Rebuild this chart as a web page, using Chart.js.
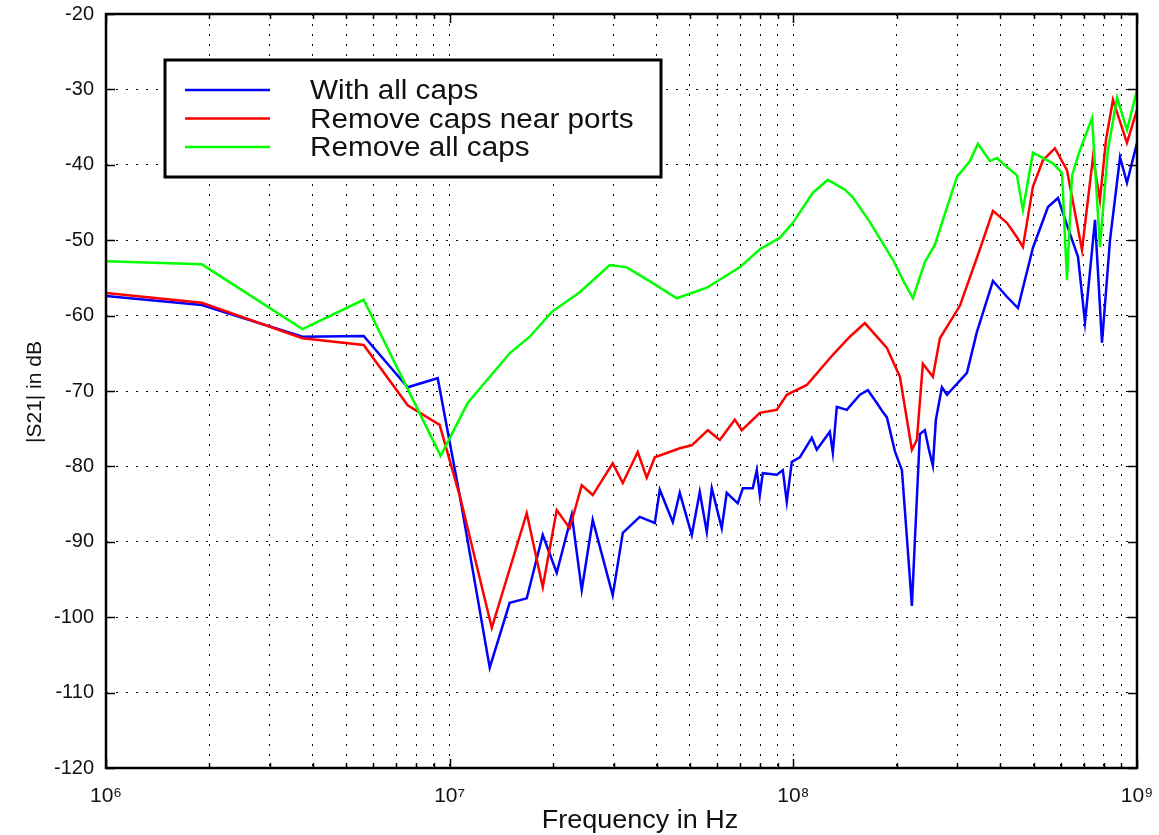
<!DOCTYPE html>
<html>
<head>
<meta charset="utf-8">
<script src="https://cdn.jsdelivr.net/npm/chart.js@4.4.1/dist/chart.umd.min.js"></script>
<style>
  html, body { margin: 0; padding: 0; background: #fff; }
  #wrap { width: 1159px; height: 835px; position: relative; }
</style>
</head>
<body>
<div id="wrap"><canvas id="s21Chart"></canvas></div>
<script>
// |S21| vs frequency
const seriesLabels = ['With all caps', 'Remove caps near ports', 'Remove all caps'];
const seriesColors = ['#0000ff', '#ff0000', '#00ff00'];

const allCapsHz = [1e6, 1.9e6, 3.73e6, 5.62e6, 7.55e6, 9.23e6, 1.073e7, 1.308e7, 1.495e7, 1.676e7,
  1.866e7, 2.049e7, 2.266e7, 2.423e7, 2.608e7, 2.982e7, 3.19e7, 3.573e7, 3.953e7, 4.087e7,
  4.46e7, 4.673e7, 5.064e7, 5.343e7, 5.6e7, 5.79e7, 6.19e7, 6.4e7, 6.89e7, 7.13e7,
  7.62e7, 7.83e7, 7.99e7, 8.15e7, 8.95e7, 9.32e7, 9.57e7, 9.9e7, 1.044e8, 1.132e8,
  1.17e8, 1.277e8, 1.303e8, 1.338e8, 1.431e8, 1.562e8, 1.648e8, 1.75e8, 1.822e8, 1.872e8,
  1.975e8, 2.07e8, 2.14e8, 2.213e8, 2.258e8, 2.335e8, 2.414e8, 2.481e8, 2.547e8, 2.599e8,
  2.706e8, 2.799e8, 3.2e8, 3.42e8, 3.81e8, 4.183e8, 4.504e8, 4.98e8, 5.507e8, 5.89e8,
  6.255e8, 6.735e8, 7.058e8, 7.548e8, 7.91e8, 8.345e8, 8.925e8, 9.35e8, 1e9];
const allCapsDb = [-57.4, -58.6, -62.8, -62.7, -69.5, -68.3, -84.2, -106.7, -98.1, -97.5,
  -89.1, -94.1, -86.4, -96.4, -87.1, -97.1, -88.8, -86.7, -87.5, -83.1,
  -87.4, -83.5, -89.1, -83.4, -88.7, -82.9, -88.2, -83.5, -84.9, -82.9,
  -82.9, -80.5, -83.8, -80.9, -81.1, -80.5, -84.7, -79.4, -78.8, -76.2,
  -77.8, -75.4, -78.2, -72.1, -72.5, -70.5, -69.9, -71.6, -72.8, -73.5,
  -78.0, -80.5, -89.4, -98.5, -89.8, -75.7, -75.2, -77.8, -79.9, -73.8,
  -69.5, -70.5, -67.6, -62.2, -55.4, -57.5, -59.0, -51.0, -45.6, -44.4,
  -48.0, -52.2, -60.9, -47.3, -63.6, -50.0, -39.0, -42.4, -37.1];

const nearPortsHz = [1e6, 1.9e6, 3.73e6, 5.62e6, 7.55e6, 9.35e6, 1.073e7, 1.326e7, 1.676e7, 1.866e7,
  2.049e7, 2.235e7, 2.423e7, 2.608e7, 2.982e7, 3.19e7, 3.526e7, 3.745e7, 3.953e7, 4.673e7,
  5.064e7, 5.64e7, 6.11e7, 6.755e7, 7.08e7, 7.99e7, 8.95e7, 9.57e7, 1.095e8, 1.303e8,
  1.46e8, 1.615e8, 1.872e8, 2.042e8, 2.213e8, 2.288e8, 2.382e8, 2.547e8, 2.67e8, 3.052e8,
  3.49e8, 3.81e8, 4.183e8, 4.474e8, 4.656e8, 4.98e8, 5.325e8, 5.77e8, 6.255e8, 6.917e8,
  7.446e8, 7.8e8, 8.124e8, 8.51e8, 9.35e8, 1e9];
const nearPortsDb = [-57.0, -58.3, -63.0, -63.9, -71.9, -74.5, -84.1, -101.4, -86.2, -96.0,
  -85.8, -88.2, -82.5, -83.8, -79.6, -82.2, -78.1, -81.5, -78.8, -77.6,
  -77.2, -75.2, -76.5, -73.8, -75.2, -72.9, -72.5, -70.5, -69.2, -65.2,
  -62.8, -61.0, -64.3, -68.1, -77.8, -76.5, -66.4, -68.1, -63.0, -58.7,
  -51.2, -46.1, -47.7, -49.6, -50.9, -42.9, -39.4, -37.8, -40.7, -51.3,
  -39.0, -44.7, -36.7, -31.4, -37.1, -32.7];

const noCapsHz = [1e6, 1.9e6, 3.73e6, 5.62e6, 9.41e6, 1.128e7, 1.495e7, 1.71e7, 1.982e7, 2.39e7,
  2.923e7, 3.276e7, 3.9e7, 4.58e7, 5.6e7, 6.98e7, 7.99e7, 9.13e7, 9.97e7, 1.14e8,
  1.26e8, 1.413e8, 1.49e8, 1.67e8, 1.949e8, 2.084e8, 2.228e8, 2.414e8, 2.582e8, 2.992e8,
  3.265e8, 3.444e8, 3.733e8, 3.912e8, 4.183e8, 4.474e8, 4.656e8, 4.98e8, 5.695e8, 6.05e8,
  6.255e8, 6.47e8, 6.83e8, 7.4e8, 7.8e8, 8.23e8, 8.75e8, 9.35e8, 1e9];
const noCapsDb = [-52.8, -53.2, -61.8, -57.9, -78.6, -71.6, -65.0, -62.8, -59.5, -56.9,
  -53.3, -53.6, -55.7, -57.7, -56.3, -53.6, -51.2, -49.7, -47.7, -43.7,
  -42.0, -43.3, -44.3, -47.6, -52.6, -55.3, -57.7, -52.9, -50.6, -41.6,
  -39.5, -37.2, -39.5, -39.1, -40.3, -41.4, -46.0, -38.4, -39.8, -41.1,
  -55.3, -41.4, -38.0, -33.8, -50.9, -38.0, -31.1, -35.4, -30.1];

const xDecades = [1e6, 1e7, 1e8, 1e9];
const xTickLabels = ['10\u2076', '10\u2077', '10\u2078', '10\u2079'];
const yMin = -120, yMax = -20, yStep = 10;

const FONT = '"Liberation Sans", Arial, Helvetica, sans-serif';

function toPoints(hz, db) {
  return hz.map((f, i) => ({ x: f, y: db[i] }));
}

function isDecade(v) {
  const l = Math.log10(v);
  return Math.abs(l - Math.round(l)) < 1e-9;
}

// frame, inward tick marks and legend box drawn over the plot
const framePlugin = {
  id: 'frame',
  afterDatasetsDraw(chart) {
    const { ctx, chartArea: a, scales } = chart;
    const x = scales.x, y = scales.y;
    ctx.save();
    ctx.strokeStyle = '#000';
    ctx.lineWidth = 1.5;
    ctx.beginPath();
    y.ticks.forEach(t => {
      const py = Math.round(y.getPixelForValue(t.value)) + 0.5;
      ctx.moveTo(a.left, py); ctx.lineTo(a.left + 9, py);
      ctx.moveTo(a.right, py); ctx.lineTo(a.right - 9, py);
    });
    x.ticks.forEach(t => {
      const px = Math.round(x.getPixelForValue(t.value)) + 0.5;
      const len = isDecade(t.value) ? 9 : 5;
      ctx.moveTo(px, a.bottom); ctx.lineTo(px, a.bottom - len);
      ctx.moveTo(px, a.top); ctx.lineTo(px, a.top + len);
    });
    ctx.stroke();
    ctx.lineWidth = 2.5;
    ctx.strokeRect(a.left, a.top, a.right - a.left, a.bottom - a.top);

    // legend
    const box = { left: 165, top: 60, right: 661, bottom: 177 };
    ctx.fillStyle = '#fff';
    ctx.fillRect(box.left, box.top, box.right - box.left, box.bottom - box.top);
    ctx.lineWidth = 3;
    ctx.strokeRect(box.left, box.top, box.right - box.left, box.bottom - box.top);
    ctx.font = '27px ' + FONT;
    ctx.textBaseline = 'alphabetic';
    ctx.textAlign = 'left';
    chart.data.datasets.forEach((ds, i) => {
      const ly = 90 + i * 28.5;
      ctx.strokeStyle = ds.borderColor;
      ctx.lineWidth = 2.5;
      ctx.beginPath();
      ctx.moveTo(185, ly); ctx.lineTo(270, ly);
      ctx.stroke();
      ctx.save();
      ctx.translate(310, ly + 9);
      ctx.scale(1.1, 1);
      ctx.fillStyle = '#111';
      ctx.fillText(ds.label, 0, 0);
      ctx.restore();
    });
    ctx.restore();
  },
  afterDraw(chart) {
    const { ctx } = chart;
    ctx.save();
    ctx.fillStyle = '#111';
    ctx.font = '25px ' + FONT;
    ctx.textAlign = 'center';
    ctx.textBaseline = 'alphabetic';
    ctx.translate(640, 828);
    ctx.scale(1.08, 1);
    ctx.fillText('Frequency in Hz', 0, 0);
    ctx.restore();

    ctx.save();
    ctx.fillStyle = '#111';
    ctx.font = '21px ' + FONT;
    ctx.textAlign = 'center';
    ctx.textBaseline = 'alphabetic';
    ctx.translate(41, 392);
    ctx.rotate(-Math.PI / 2);
    ctx.fillText('|S21| in dB', 0, 0);
    ctx.restore();
  }
};

const datasets = [
  { label: seriesLabels[0], data: toPoints(allCapsHz, allCapsDb), borderColor: seriesColors[0], order: 3 },
  { label: seriesLabels[1], data: toPoints(nearPortsHz, nearPortsDb), borderColor: seriesColors[1], order: 2 },
  { label: seriesLabels[2], data: toPoints(noCapsHz, noCapsDb), borderColor: seriesColors[2], order: 1 }
].map(d => Object.assign(d, {
  borderWidth: 2.5,
  pointRadius: 0,
  tension: 0,
  fill: false
}));

const ctx = document.getElementById('s21Chart');
new Chart(ctx.getContext('2d'), {
  type: 'line',
  data: { datasets: datasets },
  options: {
    responsive: true,
    maintainAspectRatio: false,
    animation: false,
    layout: { padding: { top: 14, right: 22, left: 0, bottom: 0 } },
    plugins: {
      legend: { display: false },
      tooltip: { enabled: false }
    },
    scales: {
      x: {
        type: 'logarithmic',
        min: 1e6,
        max: 1e9,
        afterBuildTicks(scale) {
          const ticks = [];
          for (let d = 0; d < xDecades.length; d++) {
            ticks.push({ value: xDecades[d] });
            if (d < xDecades.length - 1) {
              for (let m = 2; m <= 9; m++) ticks.push({ value: xDecades[d] * m });
            }
          }
          scale.ticks = ticks;
        },
        afterFit(scale) {
          scale.height = 67;
          scale.paddingLeft = 0;
          scale.paddingRight = 0;
        },
        ticks: {
          autoSkip: false,
          maxRotation: 0,
          padding: 16,
          color: '#111',
          font: { family: FONT, size: 21 },
          callback(value) {
            const i = xDecades.findIndex(d => Math.abs(d - value) / d < 1e-9);
            return i >= 0 ? xTickLabels[i] : '';
          }
        },
        grid: { color: '#000', lineWidth: 1, drawTicks: false },
        border: { display: false, dash: [2, 8] }
      },
      y: {
        min: yMin,
        max: yMax,
        afterFit(scale) {
          scale.width = 106;
          scale.paddingTop = 0;
          scale.paddingBottom = 0;
        },
        ticks: {
          stepSize: yStep,
          padding: 12,
          color: '#111',
          font: { family: FONT, size: 20 }
        },
        grid: { color: '#000', lineWidth: 1, drawTicks: false },
        border: { display: false, dash: [2, 8] }
      }
    }
  },
  plugins: [framePlugin]
});
</script>
</body>
</html>
